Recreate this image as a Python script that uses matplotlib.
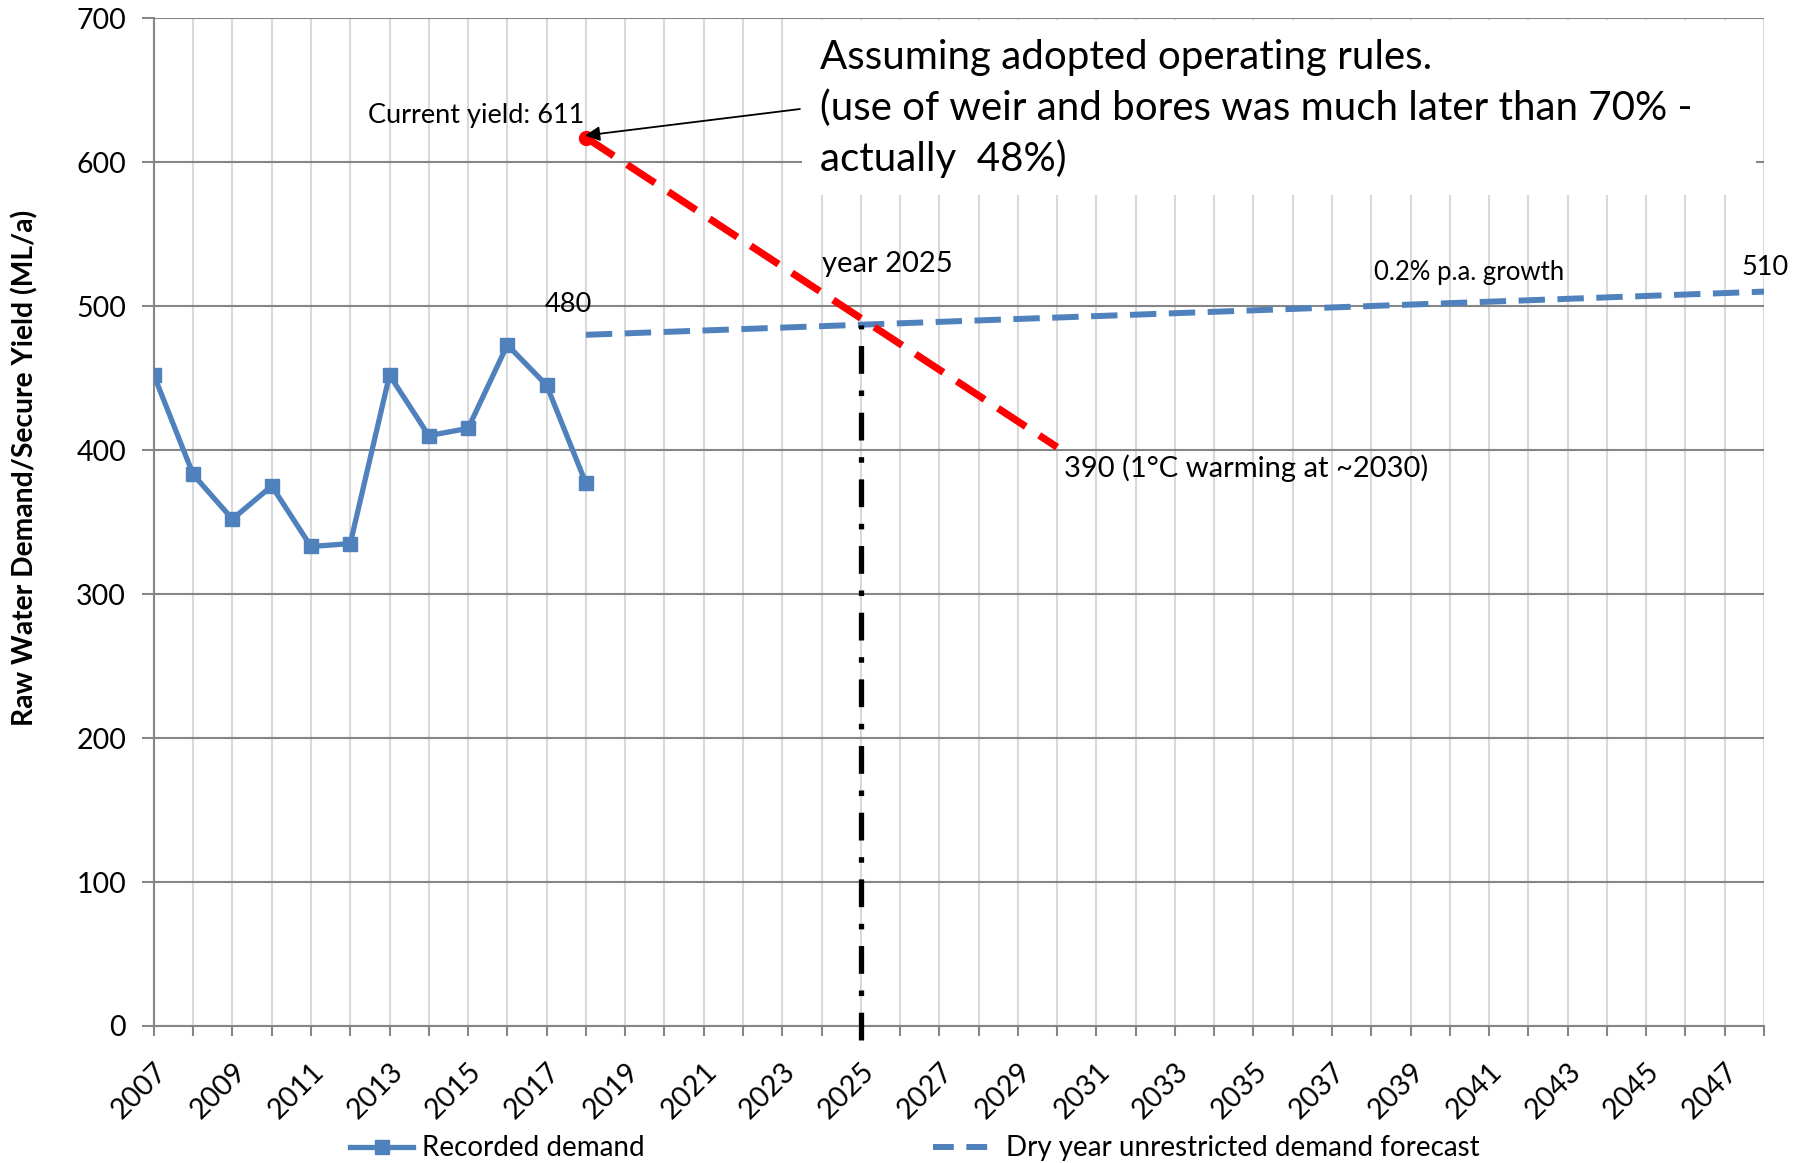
import matplotlib
matplotlib.use("Agg")
import matplotlib.pyplot as plt
from matplotlib.lines import Line2D
from matplotlib.patches import Rectangle

plt.rcParams['font.family'] = ['Lato', 'DejaVu Sans']
plt.rcParams['lines.scale_dashes'] = False

BLUE = '#4F81BD'
RED = '#FF0000'
HGRID = '#868686'
VGRID = '#D9D9D9'

# recorded demand (ML/a)
rec_years = [2007, 2008, 2009, 2010, 2011, 2012, 2013, 2014, 2015, 2016, 2017, 2018]
recorded = [452, 383, 352, 375, 333, 335, 452, 410, 415, 473, 445, 377]

# dry year unrestricted demand forecast
fc_years = list(range(2018, 2049))
forecast = [480, 481, 482, 483, 484, 485, 486, 487, 488, 489, 490,
            491, 492, 493, 494, 495, 496, 497, 498, 499, 500,
            501, 502, 503, 504, 505, 506, 507, 508, 509, 510]

# secure yield decline
yield_years = [2018, 2030]
yield_vals = [617, 402]

# year 2025 marker
marker_years = [2025, 2025]
marker_vals = [-10, 487]

fig = plt.figure(figsize=(18, 11.63), dpi=100)
ax = fig.add_axes([0.0855, 0.1178, 0.8945, 0.8667])

ax.set_xlim(2007, 2048)
ax.set_ylim(0, 700)
xt = list(range(2007, 2049))
ax.set_xticks(xt)
ax.set_xticklabels([str(y) if (y - 2007) % 2 == 0 else '' for y in xt])
ax.set_yticks(range(0, 701, 100))

ax.set_axisbelow(True)
ax.grid(axis='y', color=HGRID, lw=1.5)
ax.grid(axis='x', color=VGRID, lw=1.5)
for s in ['top', 'right']:
    ax.spines[s].set_visible(False)
for s in ['left', 'bottom']:
    ax.spines[s].set_color(HGRID)
    ax.spines[s].set_linewidth(1.5)

ax.tick_params(axis='x', length=7, width=1.5, color=HGRID, labelsize=20.5, pad=16)
ax.tick_params(axis='y', length=9, width=1.5, color=HGRID, labelsize=20.5, pad=11)
for lbl in ax.get_xticklabels():
    lbl.set_rotation(45)
    lbl.set_ha('right')
    lbl.set_va('top')
    lbl.set_rotation_mode('anchor')

# white box behind the note
ax.add_patch(Rectangle((2023.5, 577), 24.3, 121.5, facecolor='white',
                       edgecolor='none', zorder=1))

ax.plot(rec_years, recorded, color=BLUE, lw=3.8, marker='s', ms=9.5, zorder=4)
ax.plot(fc_years, forecast, color=BLUE, lw=4.3, ls=(0, (19, 9)),
        solid_capstyle='round', zorder=3)
ax.plot(marker_years, marker_vals, color='black', lw=3.8,
        ls=(0, (20, 12, 4, 12)), clip_on=False, zorder=4)
ax.plot(yield_years, yield_vals, color=RED, lw=5.2, ls=(0, (24, 11.5)), zorder=5)
ax.plot(yield_years[:1], yield_vals[:1], 'o', color=RED, ms=10, zorder=6)

ax.annotate('', xy=(2017.98, 618.4), xytext=(2023.45, 636.8),
            arrowprops=dict(arrowstyle='-|>', color='black', lw=1.3,
                            mutation_scale=22, shrinkA=0, shrinkB=0), zorder=6)

ax.text(2017.95, 632, 'Current yield: 611', fontsize=19.5, ha='right', va='center', zorder=6)
ax.text(2023.96, 637, 'Assuming adopted operating rules.\n'
        '(use of weir and bores was much later than 70% -\nactually  48%)',
        fontsize=29, ha='left', va='center', linespacing=1.42, zorder=6)
ax.text(2017.56, 501, '480', fontsize=19.5, ha='center', va='center')
ax.text(2024.01, 529, 'year 2025', fontsize=21, ha='left', va='center')
ax.text(2038.07, 523.6, '0.2% p.a. growth', fontsize=18.5, ha='left', va='center')
ax.text(2047.43, 526.7, '510', fontsize=19.5, ha='left', va='center', clip_on=False)
ax.text(2030.18, 387.5, '390 (1°C warming at ~2030)', fontsize=21, ha='left', va='center')

fig.text(25 / 1800, 1 - 468 / 1163, 'Raw Water Demand/Secure Yield (ML/a)',
         rotation=90, ha='center', va='center', fontsize=20.3, fontweight='bold')

handles = [Line2D([], [], color=BLUE, lw=3.8, marker='s', ms=9.5),
           Line2D([], [], color=BLUE, lw=4.3, ls=(0, (15, 9)))]
fig.legend(handles, ['Recorded demand', 'Dry year unrestricted demand forecast'],
           loc='center', bbox_to_anchor=(0.508, 0.0125), ncol=2, frameon=False,
           fontsize=20, columnspacing=10.4, handlelength=2.3, handletextpad=0.3)

fig.savefig('out.png', dpi=100)
